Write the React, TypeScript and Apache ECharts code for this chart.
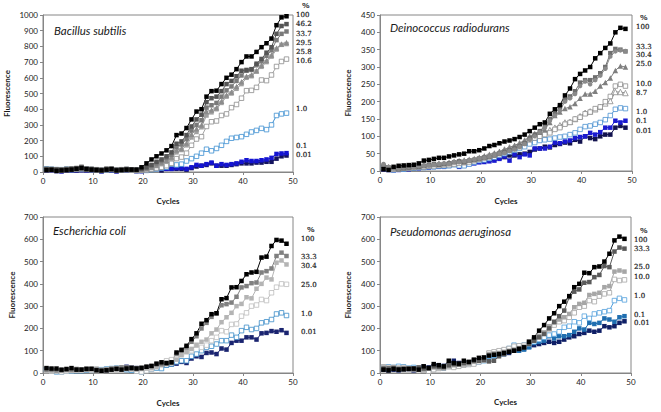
import React, { useEffect, useRef } from "react";
import * as echarts from "echarts";

const CYCLES = Array.from({ length: 49 }, (_, i) => i + 1);

// Bacillus subtilis
const B_LABELS = ["100", "46.2", "33.7", "29.5", "25.8", "10.6", "1.0", "0.1", "0.01"];
const B100 = [12,14,8,10,12,15,20,25,18,15,12,10,15,18,10,12,15,15,15,30,55,80,100,118,138,165,235,245,280,335,385,400,480,515,518,560,600,620,655,700,736,736,765,795,820,850,935,985,992];
const B46 = [18,16,15,14,18,20,22,28,20,18,15,12,18,20,12,15,18,16,14,20,30,45,65,80,100,125,180,195,235,290,335,365,445,470,480,515,560,580,610,645,650,655,690,720,760,795,880,930,942];
const B33 = [20,18,18,15,20,22,25,30,22,20,18,15,22,22,15,18,20,15,12,18,25,38,55,70,90,110,160,175,210,265,300,330,410,425,440,480,520,545,580,615,645,650,680,705,740,775,840,880,895];
const B29 = [15,15,12,12,15,18,20,22,18,16,14,12,15,18,14,16,15,12,10,15,20,30,45,60,75,95,140,150,185,240,275,300,385,395,410,450,490,510,545,575,610,620,645,680,710,745,790,815,825];
const B25 = [18,20,15,15,18,20,25,35,22,20,16,14,18,20,15,15,18,14,12,12,18,25,38,50,65,85,125,140,170,220,255,285,360,380,400,440,480,500,530,560,600,610,640,670,700,735,780,810,815];
const B10 = [15,15,12,12,15,15,18,20,15,15,12,10,15,15,12,12,15,12,10,10,12,18,25,30,40,55,85,95,120,170,210,225,290,320,325,360,370,410,430,470,518,520,539,586,582,618,672,704,719];
const B1 = [20,18,15,15,18,15,18,20,18,15,12,10,12,15,12,12,15,12,10,10,10,15,20,25,30,50,45,50,70,85,100,120,145,135,150,170,195,215,220,225,240,255,265,278,270,300,360,370,375];
const B01 = [10,8,8,5,10,10,12,12,10,12,8,5,10,10,5,10,10,8,5,5,10,15,20,22,20,20,25,25,20,30,45,40,50,60,40,50,45,50,55,65,75,70,70,75,80,90,115,118,120];
const B001 = [8,8,5,5,8,10,10,15,10,10,8,5,8,10,5,8,10,10,8,10,10,15,20,10,20,20,20,20,15,25,35,40,45,55,40,40,40,45,50,55,55,55,60,60,65,65,85,100,105];

// Deinococcus radiodurans
const D_LABELS = ["100", "33.3", "30.4", "25.0", "10.0", "8.7", "1.0", "0.1", "0.01"];
const D100 = [5,3,12,15,16,17,18,22,30,32,35,38,38,42,45,48,50,57,57,60,65,72,75,80,85,88,92,98,105,115,125,135,140,165,178,190,218,238,265,280,290,300,325,340,355,368,400,413,410];
const D33 = [20,12,8,6,10,12,10,14,15,16,18,20,22,20,26,25,28,30,33,36,38,42,46,50,52,58,62,70,78,90,100,112,125,145,160,175,200,210,222,245,258,250,262,275,295,330,345,348,346];
const D30 = [15,10,8,5,8,10,12,12,15,18,20,18,20,22,25,28,25,30,32,35,38,40,45,50,55,60,65,72,80,95,105,115,130,150,165,185,205,215,230,255,262,262,270,282,300,340,352,350,345];
const D25 = [18,12,10,8,10,12,14,15,16,18,20,22,22,25,28,30,32,34,36,40,44,48,52,56,62,68,74,80,88,100,108,112,120,140,160,170,180,185,195,210,222,222,230,245,255,268,290,303,300];
const D10 = [10,8,5,6,8,10,10,12,12,14,15,16,18,18,20,22,24,26,30,35,38,42,46,50,55,60,65,70,80,90,95,100,105,110,120,125,135,140,150,155,165,170,180,185,200,215,245,250,245];
const D8 = [15,10,8,8,10,10,12,14,15,16,18,20,20,22,24,26,28,30,32,36,40,44,50,55,62,68,72,80,88,98,105,108,112,118,125,132,140,142,150,158,168,172,178,185,195,202,228,228,225];
const D1 = [10,5,3,5,5,8,8,10,10,12,12,14,14,15,18,15,15,20,25,30,32,36,40,45,50,55,60,65,70,78,82,88,90,92,95,98,100,105,110,120,128,130,135,140,148,160,178,182,180];
const D01 = [5,3,2,3,5,5,8,8,10,10,12,12,12,15,20,12,16,20,22,25,26,28,30,35,42,30,48,40,48,45,65,65,65,70,82,80,85,88,95,98,100,110,105,112,125,125,145,140,145];
const D001 = [8,5,3,5,5,8,8,10,10,12,12,14,14,18,18,16,18,22,25,28,30,32,35,38,40,45,45,48,50,55,62,65,70,68,75,78,82,80,90,85,100,95,92,100,105,105,125,130,125];

// Escherichia coli
const E_LABELS = ["100", "33.3", "30.4", "25.0", "1.0", "0.01"];
const E100 = [22,20,20,15,18,22,15,15,18,18,12,10,12,15,18,15,20,22,20,22,28,32,42,48,45,48,92,104,122,152,178,221,237,264,268,331,336,384,385,413,443,451,454,518,522,570,597,594,580];
const E33 = [15,15,12,12,15,15,18,15,20,20,15,12,15,20,22,25,25,25,22,25,28,30,38,40,42,45,85,100,115,140,165,200,225,252,268,304,309,316,342,384,390,403,406,451,457,469,525,540,525];
const E30 = [10,8,8,10,12,10,12,15,15,18,20,15,12,15,18,20,20,18,15,18,20,22,28,35,40,45,60,80,95,108,125,140,150,178,195,228,250,270,300,310,340,335,378,400,428,420,495,505,487];
const E25 = [10,8,10,5,8,10,12,12,15,12,10,10,15,18,20,22,20,18,8,5,10,18,28,45,55,60,75,85,95,100,125,115,125,145,160,190,185,218,220,255,270,300,305,330,325,360,385,400,398];
const E1 = [15,10,5,5,8,8,10,10,12,12,15,15,18,20,22,20,15,12,10,5,12,18,22,20,35,40,50,55,55,75,85,100,115,120,130,145,145,170,160,190,205,195,200,225,230,240,265,270,258];
const E001 = [15,12,10,12,10,10,12,12,15,15,12,10,12,15,20,22,28,25,22,20,25,28,30,32,35,38,42,50,45,65,75,72,90,92,85,110,105,135,145,145,160,160,150,178,180,188,185,192,180];

// Pseudomonas aeruginosa
const P_LABELS = ["100", "33.3", "25.0", "10.0", "1.0", "0.1", "0.01"];
const P100 = [15,12,18,15,18,18,20,15,30,22,40,35,30,55,45,42,55,50,60,68,70,78,82,85,90,95,100,108,115,140,160,190,215,245,268,300,320,345,385,400,450,448,475,478,500,535,595,612,602];
const P33 = [20,20,22,18,15,20,18,25,20,22,30,28,25,35,40,38,45,48,55,55,58,52,55,75,85,95,100,108,115,130,145,160,175,200,230,255,280,340,365,375,405,408,430,440,480,475,545,563,558];
const P25 = [25,22,25,20,22,20,18,22,15,20,25,22,28,30,35,40,38,42,50,55,62,85,88,90,95,100,105,112,118,132,145,165,180,210,225,240,250,265,295,310,315,350,355,360,385,390,455,460,455];
const P10 = [28,25,25,22,25,20,18,10,12,8,15,20,22,28,25,30,35,38,40,50,58,90,95,100,105,110,120,122,125,140,150,165,180,195,215,230,235,250,270,295,300,325,320,345,355,360,420,415,418];
const P1 = [25,28,25,30,28,22,25,20,18,15,20,25,28,30,32,35,38,40,45,50,55,75,80,90,100,110,125,120,125,130,140,150,160,170,175,185,205,210,230,225,255,245,265,270,275,280,325,335,328];
const P01 = [20,18,22,20,18,20,22,18,20,18,22,25,20,30,28,35,40,42,45,52,55,70,75,80,85,95,100,100,105,115,135,140,145,165,155,165,165,170,185,200,195,225,220,225,245,240,230,250,255];
const P001 = [15,12,15,12,15,18,12,22,28,25,30,35,32,30,55,45,42,48,50,55,62,70,78,82,85,90,100,105,110,118,125,130,135,140,135,140,150,160,165,175,180,190,185,190,210,205,210,225,232];

const TITLES = ["Bacillus subtilis", "Deinococcus radiodurans", "Escherichia coli", "Pseudomonas aeruginosa"];
const Y_MAX = [1000, 450, 700, 700];
const Y_STEP = [100, 50, 100, 100];

const FONT = "Lato";
const AXIS_COLOR = "#868686";
const TEXT_COLOR = "#1a1a1a";

function mk(g: number, name: string, values: number[], color: string, symbol: string, hollow: boolean, lineColor?: string) {
  return {
    type: "line",
    name,
    xAxisIndex: g,
    yAxisIndex: g,
    data: values.map((v, i) => [CYCLES[i] - 0.3, v]),
    symbol,
    symbolSize: symbol === "triangle" ? 5.5 : 4.5,
    showSymbol: true,
    silent: true,
    lineStyle: { color: lineColor || color, width: 1 },
    itemStyle: { color: hollow ? "#ffffff" : color, borderColor: color, borderWidth: hollow ? 0.8 : 0 },
  };
}

const GRIDS = [
  { left: 43, top: 15, width: 250, height: 157 },
  { left: 380, top: 15, width: 252, height: 156 },
  { left: 43, top: 217, width: 250, height: 156 },
  { left: 380, top: 217, width: 251, height: 156 },
];
const Y_NAME_GAP = [32, 28, 27, 28];
const X_NAME_GAP = [25, 26, 26, 25];
const TITLE_POS = [[54, 30], [390, 27], [53, 230], [390, 231]];
const PCT_POS = [[302, 5], [640, 17], [307, 229], [640, 230]];
const LABEL_X = [296, 636, 301, 634];
const LABEL_Y = [
  [15, 24, 34, 43, 52, 61, 109, 146, 155],
  [27, 47, 55, 64, 84, 93, 112, 121, 131],
  [239, 257, 266, 285, 314, 332],
  [240, 249, 267, 277, 296, 315, 323],
];
const LABELS = [B_LABELS, D_LABELS, E_LABELS, P_LABELS];

function txt(text: string, x: number, y: number, fontSize: number, fontFamily: string, fontStyle = "normal", strokeW = 0) {
  const style: any = {
    text,
    fontSize,
    fontFamily,
    fontStyle,
    fill: TEXT_COLOR,
    align: "left",
    textAlign: "left",
    verticalAlign: "middle",
    textVerticalAlign: "middle",
  };
  if (strokeW > 0) {
    style.stroke = TEXT_COLOR;
    style.lineWidth = strokeW;
  }
  return { type: "text", silent: true, x, y, style };
}

export default function App() {
  const ref = useRef<HTMLDivElement>(null);
  useEffect(() => {
    if (!ref.current) return;
    const chart = echarts.init(ref.current, undefined, { renderer: "svg" });

    const xAxis = GRIDS.map((_, g) => ({
      type: "value",
      gridIndex: g,
      min: 0,
      max: 50,
      interval: 10,
      name: "Cycles",
      nameLocation: "middle",
      nameGap: X_NAME_GAP[g],
      nameTextStyle: { fontFamily: FONT, fontWeight: "bold", fontSize: 8, color: TEXT_COLOR },
      axisLine: { show: true, lineStyle: { color: AXIS_COLOR, width: 1 } },
      axisTick: { show: true, inside: false, length: 3, lineStyle: { color: AXIS_COLOR } },
      axisLabel: { fontFamily: FONT, fontSize: 8, color: TEXT_COLOR, margin: 5, formatter: (v: number) => String(v) },
      splitLine: { show: false },
    }));
    const yAxis = GRIDS.map((_, g) => ({
      type: "value",
      gridIndex: g,
      min: 0,
      max: Y_MAX[g],
      interval: Y_STEP[g],
      name: "Fluorescence",
      nameLocation: "middle",
      nameGap: Y_NAME_GAP[g],
      nameTextStyle: { fontFamily: FONT, fontWeight: "bold", fontSize: 8, color: TEXT_COLOR },
      axisLine: { show: true, lineStyle: { color: AXIS_COLOR, width: 1 } },
      axisTick: { show: true, inside: false, length: 3, lineStyle: { color: AXIS_COLOR } },
      axisLabel: { fontFamily: FONT, fontSize: 8, color: TEXT_COLOR, margin: 5, formatter: (v: number) => String(v) },
      splitLine: { show: false },
    }));

    const series = [
      // Bacillus
      mk(0, "0.01", B001, "#14145e", "rect", false),
      mk(0, "0.1", B01, "#1414d2", "rect", false),
      mk(0, "1.0", B1, "#3b8ed0", "rect", true),
      mk(0, "10.6", B10, "#8c8c8c", "rect", true, "#a6a6a6"),
      mk(0, "25.8", B25, "#a0a0a0", "rect", false),
      mk(0, "29.5", B29, "#8c8c8c", "triangle", false),
      mk(0, "33.7", B33, "#7a7a7a", "rect", false),
      mk(0, "46.2", B46, "#555555", "rect", false),
      mk(0, "100", B100, "#000000", "rect", false),
      // Deinococcus
      mk(1, "0.01", D001, "#12124e", "rect", false),
      mk(1, "0.1", D01, "#1a1ad0", "rect", false),
      mk(1, "1.0", D1, "#4a90d0", "rect", true),
      mk(1, "8.7", D8, "#8c8c8c", "triangle", true),
      mk(1, "10.0", D10, "#8c8c8c", "rect", true),
      mk(1, "25.0", D25, "#7f7f7f", "triangle", false),
      mk(1, "30.4", D30, "#6e6e6e", "rect", false),
      mk(1, "33.3", D33, "#8a8a8a", "circle", false),
      mk(1, "100", D100, "#000000", "rect", false),
      // E. coli
      mk(2, "0.01", E001, "#1a2470", "rect", false),
      mk(2, "1.0", E1, "#3a8cc8", "rect", true),
      mk(2, "25.0", E25, "#bcbcbc", "rect", true),
      mk(2, "30.4", E30, "#b4b4b4", "rect", false),
      mk(2, "33.3", E33, "#808080", "rect", false),
      mk(2, "100", E100, "#000000", "rect", false),
      // Pseudomonas
      mk(3, "0.01", P001, "#0f1f66", "rect", false),
      mk(3, "0.1", P01, "#1f6eb0", "rect", false),
      mk(3, "1.0", P1, "#52a0dc", "rect", true),
      mk(3, "10.0", P10, "#a6a6a6", "rect", true),
      mk(3, "25.0", P25, "#a6a6a6", "rect", false),
      mk(3, "33.3", P33, "#5a5a5a", "rect", false),
      mk(3, "100", P100, "#000000", "rect", false),
    ];

    const graphic: any[] = [];
    TITLES.forEach((t, g) => {
      graphic.push(txt(t, TITLE_POS[g][0], TITLE_POS[g][1], 11.5, FONT, "italic"));
      graphic.push(txt("%", PCT_POS[g][0], PCT_POS[g][1], 8, "DejaVu Serif", "normal", 0.2));
      LABELS[g].forEach((l, i) => {
        graphic.push(txt(l, LABEL_X[g], LABEL_Y[g][i], 7, "DejaVu Serif", "normal", 0.2));
      });
    });

    chart.setOption({
      animation: false,
      backgroundColor: "#ffffff",
      grid: GRIDS.map((gr) => ({ ...gr, show: true, borderColor: AXIS_COLOR, borderWidth: 1, backgroundColor: "transparent", containLabel: false })),
      xAxis,
      yAxis,
      series,
      graphic,
    });
    return () => chart.dispose();
  }, []);
  return <div ref={ref} style={{ position: "fixed", left: 0, top: 0, width: 661, height: 412 }} />;
}
